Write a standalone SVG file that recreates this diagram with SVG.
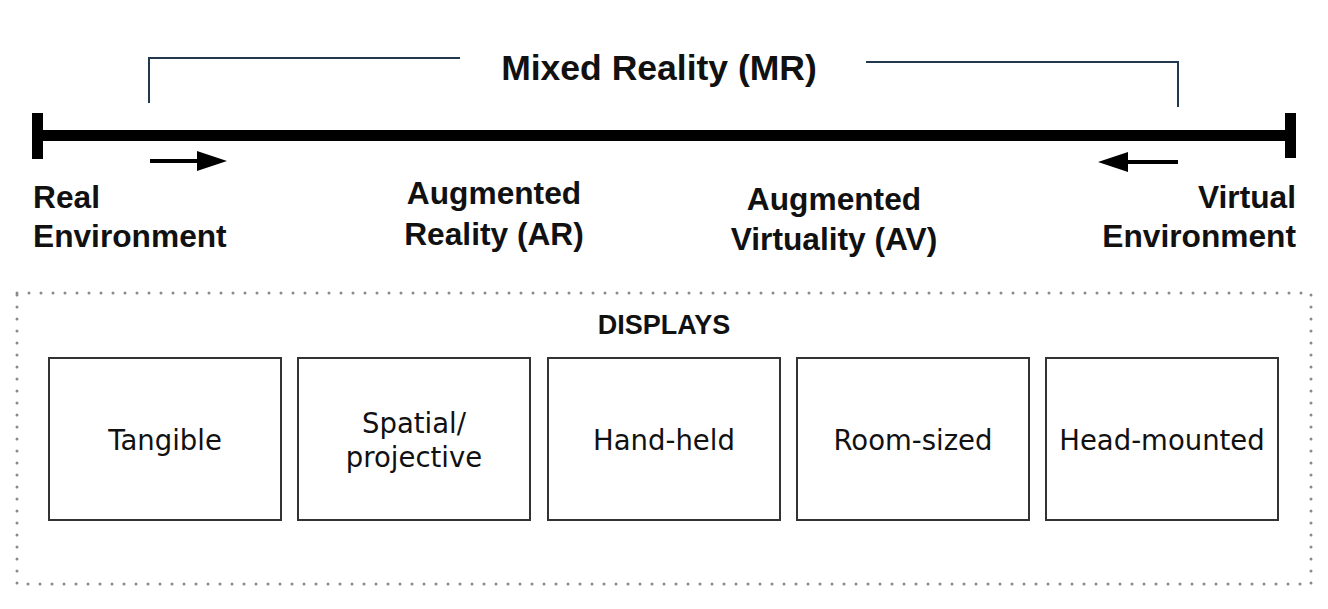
<svg xmlns="http://www.w3.org/2000/svg" width="1328" height="609" viewBox="0 0 1328 609">
<style>
.lbl{font-family:"Liberation Sans",Arial,sans-serif;font-weight:bold;font-size:31.7px;fill:#111}
.title{font-family:"Liberation Sans",Arial,sans-serif;font-weight:bold;font-size:35.5px;fill:#111}
.hdr{font-family:"Liberation Sans",Arial,sans-serif;font-weight:bold;font-size:27px;fill:#111}
.box{fill:#fff;stroke:#333;stroke-width:2}
.btxt{font-family:"DejaVu Sans",Verdana,sans-serif;font-size:27.5px;fill:#111;text-anchor:middle}
.brk{fill:none;stroke:#22384c;stroke-width:2}
</style>
<rect width="1328" height="609" fill="#fff"/>
<g id="connectors">
<rect x="38" y="130" width="1252" height="11" fill="#000"/>
<rect x="32" y="113" width="11" height="46" fill="#000"/>
<rect x="1285" y="113" width="11" height="45" fill="#000"/>
<polyline class="brk" points="149,103 149,58 460,58"/>
<polyline class="brk" points="866,62 1178,62 1178,107"/>
<line x1="150" y1="161" x2="200" y2="161" stroke="#000" stroke-width="4"/>
<path d="M197,151 L227,161 L197,171 Z" fill="#000"/>
<line x1="1178" y1="162" x2="1125" y2="162" stroke="#000" stroke-width="4"/>
<path d="M1128,152 L1098,162 L1128,172 Z" fill="#000"/>
</g>
<g id="mr">
<text class="title" x="659" y="80" text-anchor="middle">Mixed Reality (MR)</text>
</g>
<g id="real">
<text class="lbl" x="33" y="208">Real</text>
<text class="lbl" x="33" y="247">Environment</text>
</g>
<g id="ar">
<text class="lbl" x="494" y="204" text-anchor="middle">Augmented</text>
<text class="lbl" x="494" y="245" text-anchor="middle">Reality (AR)</text>
</g>
<g id="av">
<text class="lbl" x="834" y="210" text-anchor="middle">Augmented</text>
<text class="lbl" x="834" y="250" text-anchor="middle">Virtuality (AV)</text>
</g>
<g id="virtual">
<text class="lbl" x="1296" y="208" text-anchor="end">Virtual</text>
<text class="lbl" x="1296" y="247" text-anchor="end">Environment</text>
</g>
<g id="displays">
<rect x="17" y="293" width="1294" height="291" fill="none" stroke="#8a8a8a" stroke-width="3" stroke-dasharray="0 12" stroke-linecap="round"/>
<text class="hdr" x="664" y="334" text-anchor="middle">DISPLAYS</text>
</g>
<g id="tangible">
<rect class="box" x="49" y="358" width="232" height="162"/>
<text class="btxt" x="165" y="450">Tangible</text>
</g>
<g id="spatial">
<rect class="box" x="298" y="358" width="232" height="162"/>
<text class="btxt" x="414" y="433">Spatial/</text>
<text class="btxt" x="414" y="467">projective</text>
</g>
<g id="handheld">
<rect class="box" x="548" y="358" width="232" height="162"/>
<text class="btxt" x="664" y="450">Hand-held</text>
</g>
<g id="roomsized">
<rect class="box" x="797" y="358" width="232" height="162"/>
<text class="btxt" x="913" y="450">Room-sized</text>
</g>
<g id="headmounted">
<rect class="box" x="1046" y="358" width="232" height="162"/>
<text class="btxt" x="1162" y="450">Head-mounted</text>
</g>
</svg>
